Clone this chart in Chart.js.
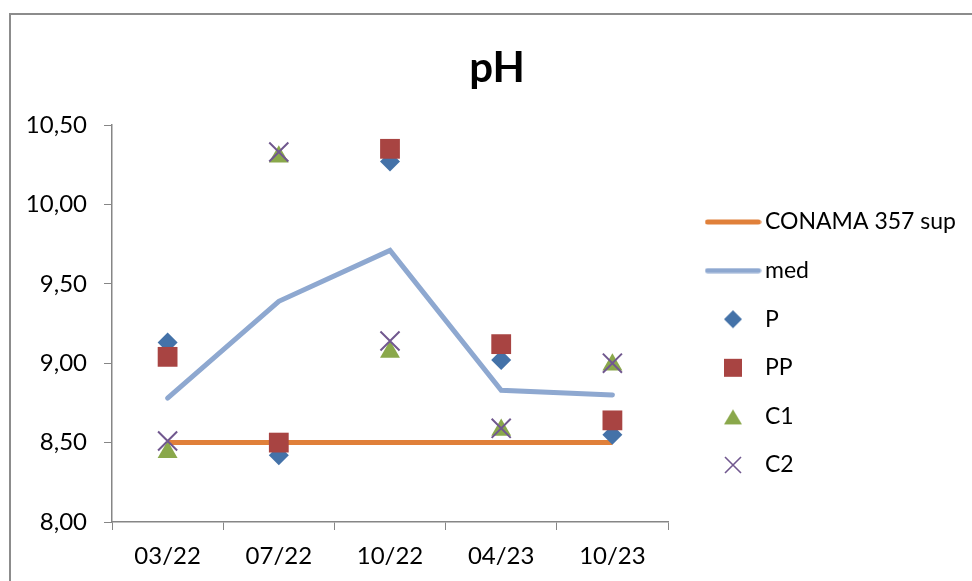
<!DOCTYPE html>
<html>
<head>
<meta charset="utf-8">
<script src="https://cdn.jsdelivr.net/npm/chart.js@4.4.1/dist/chart.umd.min.js"></script>
<style>
  html, body { margin: 0; padding: 0; background: #fff; }
  #wrap { position: relative; width: 972px; height: 581px; overflow: hidden; }
  #frame { position: absolute; left: 9px; top: 13px; width: 1000px; height: 600px;
           border-left: 2px solid #8c8c8c; border-top: 2px solid #8c8c8c; }
  #chart { position: absolute; left: 0; top: 0; }
</style>
</head>
<body>
<div id="wrap">
  <div id="frame"></div>
  <canvas id="chart" width="972" height="581"></canvas>
</div>
<script>
// dados
const categories = ['03/22', '07/22', '10/22', '04/23', '10/23'];
const conama = [8.5, 8.5, 8.5, 8.5, 8.5];
const med = [8.78, 9.39, 9.71, 8.83, 8.80];
const pVals = [9.13, 8.42, 10.27, 9.02, 8.55];
const ppVals = [9.04, 8.50, 10.35, 9.12, 8.64];
const c1Vals = [8.44, 10.30, 9.07, 8.58, 8.99];
const c2Vals = [8.51, 10.33, 9.14, 8.59, 9.00];
const yMin = 8.0, yMax = 10.5, yStep = 0.5;

Chart.defaults.font.family = 'Lato';
Chart.defaults.color = '#000';

// simbolos da legenda (linha ou marcador)
function legendSymbol(kind, color) {
  const c = document.createElement('canvas');
  const g = c.getContext('2d');
  if (kind === 'line') {
    c.width = 57; c.height = 6;
    g.strokeStyle = color; g.lineWidth = 5; g.lineCap = 'round';
    g.beginPath(); g.moveTo(3, 3); g.lineTo(54, 3); g.stroke();
    return c;
  }
  c.width = 20; c.height = 20;
  g.fillStyle = color; g.strokeStyle = color;
  g.beginPath();
  if (kind === 'diamond') {
    g.moveTo(10, 1); g.lineTo(19, 10); g.lineTo(10, 19); g.lineTo(1, 10); g.closePath(); g.fill();
  } else if (kind === 'square') {
    g.fillRect(1, 1, 18, 18);
  } else if (kind === 'triangle') {
    g.moveTo(10, 3); g.lineTo(19, 18); g.lineTo(1, 18); g.closePath(); g.fill();
  } else if (kind === 'cross') {
    g.lineWidth = 1.6;
    g.moveTo(2, 2); g.lineTo(18, 18); g.moveTo(18, 2); g.lineTo(2, 18); g.stroke();
  }
  return c;
}

const orange = '#E0803A', lightBlue = '#8EA8D0';
const blue = '#4472A8', red = '#A84442', green = '#8AA84B', purple = '#71588F';

const datasets = [
  { label: 'CONAMA 357 sup', data: conama, borderColor: orange, backgroundColor: orange,
    borderWidth: 5, pointRadius: 0, pointHoverRadius: 0, order: 6 },
  { label: 'med', data: med, borderColor: lightBlue, backgroundColor: lightBlue,
    borderWidth: 5, borderCapStyle: 'round', pointRadius: 0, pointHoverRadius: 0, order: 5 },
  { label: 'P', data: pVals, showLine: false, pointStyle: 'rectRot', pointRadius: 10, pointHoverRadius: 10,
    pointBackgroundColor: blue, pointBorderWidth: 0, backgroundColor: blue, order: 4 },
  { label: 'PP', data: ppVals, showLine: false, pointStyle: 'rect', pointRadius: 14, pointHoverRadius: 14,
    pointBackgroundColor: red, pointBorderWidth: 0, backgroundColor: red, order: 3 },
  { label: 'C1', data: c1Vals, showLine: false, pointStyle: 'triangle', pointRadius: 11.5, pointHoverRadius: 11.5,
    pointBackgroundColor: green, pointBorderWidth: 0, backgroundColor: green, order: 2 },
  { label: 'C2', data: c2Vals, showLine: false, pointStyle: 'crossRot', pointRadius: 13.5, pointHoverRadius: 13.5,
    pointBorderColor: purple, pointBorderWidth: 2, borderColor: purple, order: 1 }
];
const symbols = [
  legendSymbol('line', orange),
  legendSymbol('line', lightBlue),
  legendSymbol('diamond', blue),
  legendSymbol('square', red),
  legendSymbol('triangle', green),
  legendSymbol('cross', purple)
];

// largura fixa da legenda
const legendBox = {
  id: 'legendBox',
  beforeLayout(chart) {
    const lg = chart.legend;
    if (lg && !lg._fixed) {
      const fit = lg.fit;
      lg.fit = function () { fit.call(this); this.width = 285.1; };
      lg._fixed = true;
    }
  }
};

const axisGray = '#868686';

new Chart(document.getElementById('chart'), {
  type: 'line',
  data: { labels: categories, datasets: datasets },
  options: {
    responsive: false,
    animation: false,
    layout: { padding: { left: 22, top: 0, right: 0, bottom: 0 } },
    scales: {
      x: {
        offset: true,
        grid: { display: true, drawOnChartArea: false, offset: true, color: axisGray, tickLength: 8 },
        border: { display: true, color: axisGray, width: 1.5 },
        ticks: { font: { size: 24 }, padding: 12, maxRotation: 0 },
        afterFit(s) { s.height = 59; }
      },
      y: {
        min: yMin, max: yMax,
        grid: { display: true, drawOnChartArea: false, color: axisGray, tickLength: 8 },
        border: { display: true, color: axisGray, width: 1.5 },
        ticks: { stepSize: yStep, font: { size: 24 }, padding: 17,
                 callback: v => v.toFixed(2).replace('.', ',') },
        afterFit(s) { s.width = 90; }
      },
      gap: {
        type: 'linear', position: 'right', display: true,
        grid: { display: false }, border: { display: false }, ticks: { display: false },
        afterFit(s) { s.width = 18.9; }
      }
    },
    plugins: {
      title: {
        display: true, text: 'pH', color: '#000',
        font: { size: 42, weight: 'bold', lineHeight: 1.2 },
        padding: { top: 42.8, bottom: 31.8 }
      },
      legend: {
        position: 'right',
        title: { display: true, text: '', font: { size: 10, lineHeight: 1 }, padding: { top: 96, bottom: 0 } },
        labels: {
          usePointStyle: true,
          pointStyleWidth: 41,
          padding: 25.6,
          font: { size: 23 },
          color: '#000',
          generateLabels(chart) {
            return chart.data.datasets.map((ds, i) => ({
              text: ds.label,
              pointStyle: symbols[i],
              fillStyle: 'rgba(0,0,0,0)',
              strokeStyle: 'rgba(0,0,0,0)',
              lineWidth: 0,
              hidden: false,
              datasetIndex: i
            }));
          }
        }
      },
      tooltip: { enabled: false }
    }
  },
  plugins: [legendBox]
});
</script>
</body>
</html>
